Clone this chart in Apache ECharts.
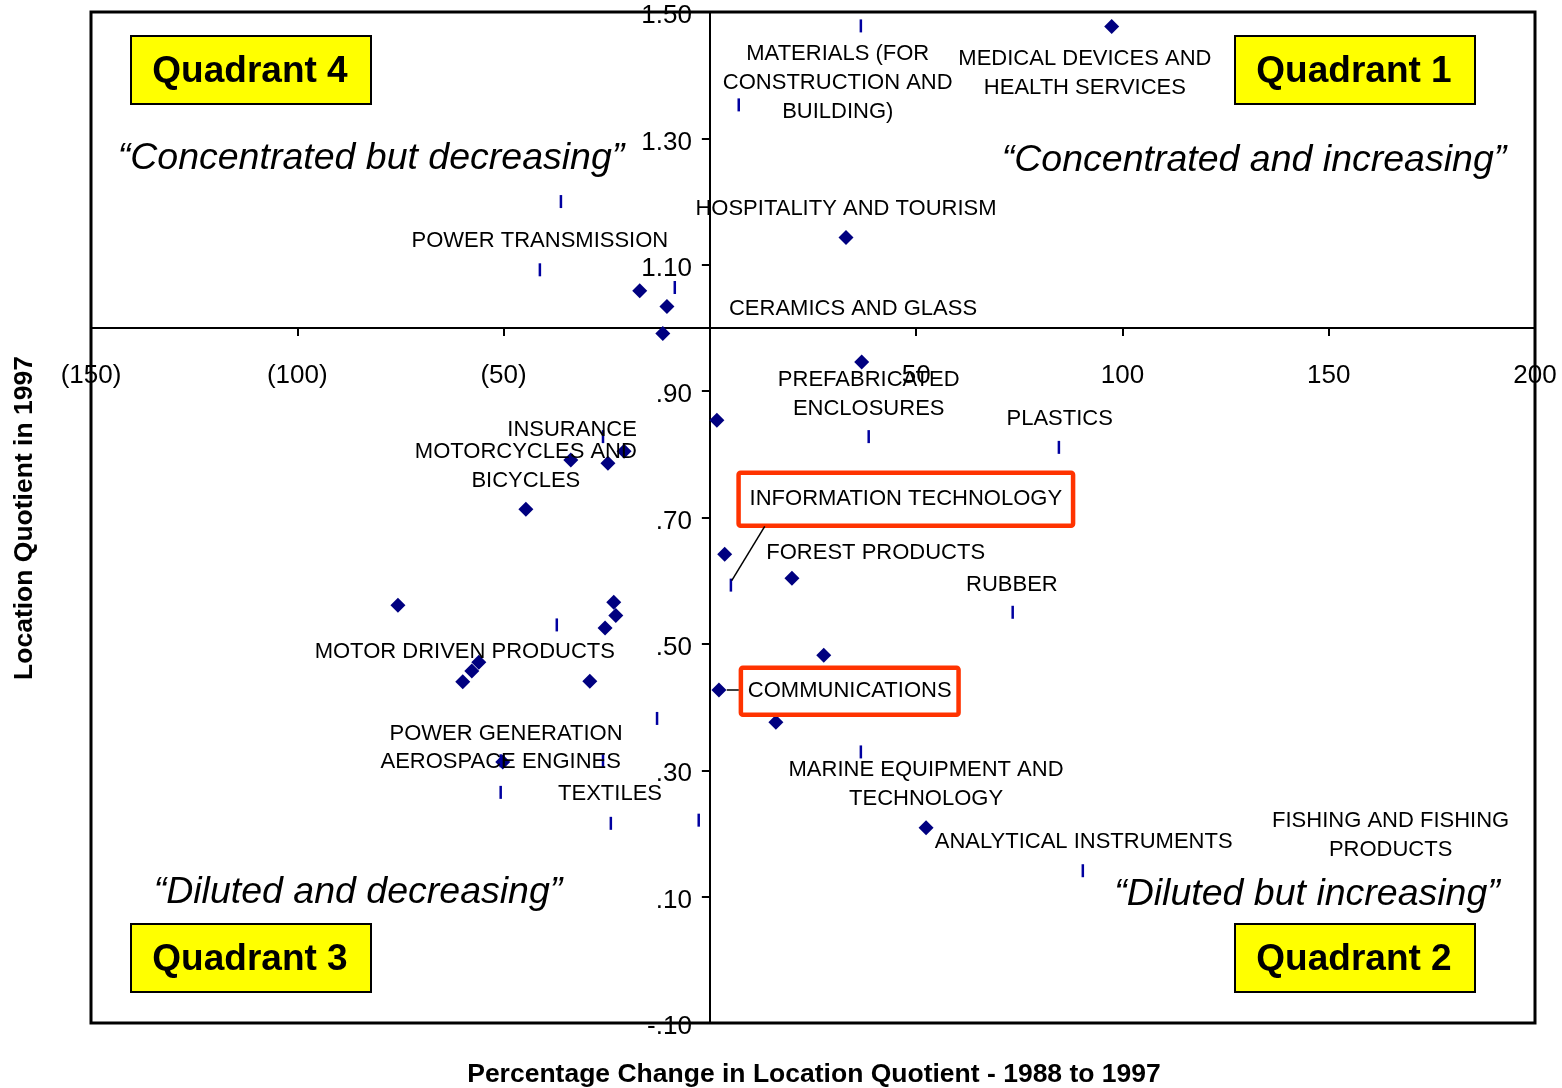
<!DOCTYPE html>
<html>
<head>
<meta charset="utf-8">
<script src="https://cdn.jsdelivr.net/npm/echarts@6/dist/echarts.min.js"></script>
<style>
html,body{margin:0;padding:0;background:#fff;}
#chart{width:1562px;height:1088px;}
</style>
</head>
<body>
<div id="chart"></div>
<script>
// ---------- DATA ----------
const xTickValues = [-150, -100, -50, 0, 50, 100, 150, 200];
const yTickValues = [-0.1, 0.1, 0.3, 0.5, 0.7, 0.9, 1.1, 1.3, 1.5];

// diamond markers (percentage change, location quotient)
const clusterX = [97.4, 33.0, -17.0, -10.4, -11.4, 36.8, 1.7, -33.7, -24.7, -20.8, -44.6, 3.6, 19.9, -75.6, -23.3, -22.8, -25.4, 27.6, -56.0, -57.7, -59.9, -29.1, 2.2, 16.0, -50.2, 52.4];
const clusterY = [1.477, 1.143, 1.059, 1.034, 0.991, 0.946, 0.854, 0.791, 0.786, 0.805, 0.713, 0.642, 0.604, 0.561, 0.566, 0.545, 0.525, 0.482, 0.471, 0.457, 0.440, 0.441, 0.427, 0.376, 0.313, 0.209];

// short vertical-dash markers
const dashX = [36.6, 7.0, -36.1, -41.2, -8.5, -25.9, 38.5, 84.6, 5.1, 73.4, -37.1, -12.8, 36.6, -50.7, -25.9, -50.7, -24.0, -2.7, 90.4];
const dashY = [1.478, 1.353, 1.200, 1.092, 1.064, 0.828, 0.828, 0.811, 0.593, 0.550, 0.530, 0.382, 0.329, 0.315, 0.315, 0.265, 0.216, 0.221, 0.141];

// cluster label texts
const labelTexts = [
  'MATERIALS (FOR\nCONSTRUCTION AND\nBUILDING)',
  'MEDICAL DEVICES AND\nHEALTH SERVICES',
  'HOSPITALITY AND TOURISM',
  'POWER TRANSMISSION',
  'CERAMICS AND GLASS',
  'PREFABRICATED\nENCLOSURES',
  'PLASTICS',
  'INSURANCE',
  'MOTORCYCLES AND\nBICYCLES',
  'INFORMATION TECHNOLOGY',
  'FOREST PRODUCTS',
  'RUBBER',
  'MOTOR DRIVEN PRODUCTS',
  'COMMUNICATIONS',
  'POWER GENERATION',
  'AEROSPACE ENGINES',
  'TEXTILES',
  'MARINE EQUIPMENT AND\nTECHNOLOGY',
  'ANALYTICAL INSTRUMENTS',
  'FISHING AND FISHING\nPRODUCTS'
];
const highlighted = ['INFORMATION TECHNOLOGY', 'COMMUNICATIONS'];

// ---------- LAYOUT (annotation anchors, in data units) ----------
const labelAnchorX = [31.0, 90.9, 33.0, -41.2, 34.7, 38.5, 84.8, -33.4, -44.6, 47.5, 40.2, 73.2, -59.4, 33.9, -49.4, -50.7, -24.2, 52.4, 90.6, 165.0];
const labelAnchorY = [1.388, 1.402, 1.188, 1.138, 1.030, 0.895, 0.856, 0.838, 0.781, 0.729, 0.644, 0.593, 0.487, 0.425, 0.357, 0.313, 0.262, 0.278, 0.186, 0.197];
const leaderLines = [
  [[5.3, 0.600], [13.3, 0.686]],
  [[4.1, 0.427], [7.0, 0.427]]
];

const FONT = '"Liberation Sans", Arial, Helvetica, sans-serif';
const X_MIN = -150, X_MAX = 200, Y_MIN = -0.1, Y_MAX = 1.5;
const Y_CROSS = 1.0, X_CROSS = 0;
const GRID = {left: 91, right: 27, top: 12, bottom: 65};
const W = 1562, H = 1088;
const gridW = W - GRID.left - GRID.right;
const gridH = H - GRID.top - GRID.bottom;
const xAxisOffset = -gridH * (Y_CROSS - Y_MIN) / (Y_MAX - Y_MIN);
const yAxisOffset = -gridW * (X_CROSS - X_MIN) / (X_MAX - X_MIN);

const clusterData = clusterX.map((x, i) => [x, clusterY[i]]);
const dashData = dashX.map((x, i) => [x, dashY[i]]);
const labelData = labelTexts.map((t, i) => {
  const item = {name: t, value: [labelAnchorX[i], labelAnchorY[i]]};
  if (highlighted.indexOf(t) >= 0) {
    item.label = {
      borderColor: '#FF3300', borderWidth: 4.5, borderRadius: 2,
      padding: t === 'COMMUNICATIONS' ? [10, 7, 8, 7] : [13, 11, 11, 11]
    };
  }
  return item;
});

function yFmt(v) {
  if (Math.abs(v - Y_CROSS) < 1e-9) return '';
  return '{t|' + v.toFixed(2).replace(/^(-?)0\./, '$1.') + '}';
}
function xFmt(v) {
  if (v === 0) return '';
  return v < 0 ? '(' + (-v) + ')' : String(v);
}

function quadBox(x, y, text) {
  return {
    type: 'group', x: x, y: y, z: 100,
    children: [
      {type: 'rect', shape: {x: 0, y: 0, width: 240, height: 68},
       style: {fill: '#FFFF00', stroke: '#000', lineWidth: 2}},
      {type: 'text', x: 119, y: 36,
       style: {text: text, fill: '#000', font: 'bold 37px ' + FONT, align: 'center', verticalAlign: 'middle'}}
    ]
  };
}
function quote(x, y, text) {
  return {type: 'text', x: x, y: y, z: 100,
    style: {text: '\u201C' + text + '\u201D', fill: '#000', font: 'italic 37.5px ' + FONT, align: 'center', verticalAlign: 'middle'}};
}

const chart = echarts.init(document.getElementById('chart'), null, {renderer: 'canvas'});
chart.setOption({
  animation: false,
  backgroundColor: '#fff',
  grid: {left: GRID.left, right: GRID.right, top: GRID.top, bottom: GRID.bottom,
         show: true, borderColor: '#000', borderWidth: 3, backgroundColor: 'transparent'},
  xAxis: {
    type: 'value', min: X_MIN, max: X_MAX, interval: 50,
    position: 'bottom', offset: xAxisOffset,
    axisLine: {show: true, onZero: false, lineStyle: {color: '#000', width: 2}},
    axisTick: {show: true, length: 8, lineStyle: {color: '#000', width: 2}},
    axisLabel: {show: true, margin: 35, fontSize: 26, color: '#000', fontFamily: FONT,
                formatter: xFmt, showMinLabel: true, showMaxLabel: true},
    splitLine: {show: false}
  },
  yAxis: {
    type: 'value', min: Y_MIN, max: Y_MAX, interval: 0.2,
    position: 'left', offset: yAxisOffset,
    axisLine: {show: true, onZero: false, lineStyle: {color: '#000', width: 2}},
    axisTick: {show: true, length: 8, lineStyle: {color: '#000', width: 2}, customValues: yTickValues},
    axisLabel: {show: true, margin: 18, fontSize: 26, color: '#000', fontFamily: FONT,
                formatter: yFmt, customValues: yTickValues, showMinLabel: true, showMaxLabel: true,
                rich: {t: {fontSize: 26, fontFamily: FONT, color: '#000', padding: [8, 0, 0, 0]}}},
    splitLine: {show: false}
  },
  series: [
    {
      name: 'clusters', type: 'scatter', data: clusterData,
      symbol: 'diamond', symbolSize: 15,
      itemStyle: {color: '#000080', opacity: 1}, z: 3, silent: true
    },
    {
      name: 'dashes', type: 'scatter', data: dashData,
      symbol: 'rect', symbolSize: [2.5, 13],
      itemStyle: {color: '#0000A0', opacity: 1}, z: 3, silent: true
    },
    {
      name: 'labels', type: 'scatter', data: labelData,
      symbol: 'circle', symbolSize: 1, itemStyle: {color: 'rgba(0,0,0,0)', opacity: 1},
      z: 4, silent: true,
      label: {show: true, position: 'inside', formatter: '{b}', color: '#000', opacity: 1,
              fontFamily: FONT, fontSize: 22, lineHeight: 29, align: 'center', verticalAlign: 'middle'},
      markLine: {
        silent: true, symbol: ['none', 'none'], animation: false,
        label: {show: false},
        lineStyle: {color: '#000', width: 1.5, type: 'solid', opacity: 1},
        data: leaderLines.map(l => [{coord: l[0]}, {coord: l[1]}])
      }
    }
  ],
  graphic: [
    quadBox(131, 36, 'Quadrant 4'),
    quadBox(1235, 36, 'Quadrant 1'),
    quadBox(131, 924, 'Quadrant 3'),
    quadBox(1235, 924, 'Quadrant 2'),
    quote(371, 159, 'Concentrated but decreasing'),
    quote(1254, 161, 'Concentrated and increasing'),
    quote(358, 893, 'Diluted and decreasing'),
    quote(1307, 895, 'Diluted but increasing'),
    {type: 'text', x: 814, y: 1075, z: 100,
     style: {text: 'Percentage Change in Location Quotient - 1988 to 1997', fill: '#000',
             font: 'bold 26.5px ' + FONT, align: 'center', verticalAlign: 'middle'}},
    {type: 'text', x: 25, y: 518, rotation: Math.PI / 2, z: 100,
     style: {text: 'Location Quotient in 1997', fill: '#000',
             font: 'bold 26.5px ' + FONT, align: 'center', verticalAlign: 'middle'}}
  ]
});
</script>
</body>
</html>
